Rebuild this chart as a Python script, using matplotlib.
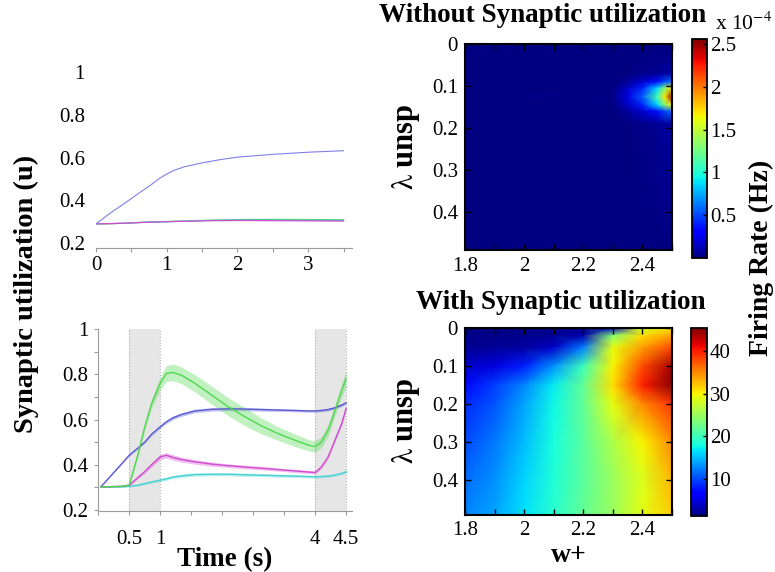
import numpy as np
import matplotlib
matplotlib.use('Agg')
import matplotlib.pyplot as plt

plt.rcParams['font.family'] = ['Liberation Serif', 'DejaVu Serif']
plt.rcParams['mathtext.fontset'] = 'stix'

# --- top left: u without stimulus ---
t_top = [0, 0.2, 0.4, 0.6, 0.8, 0.9, 1.0, 1.1, 1.25, 1.5, 1.75, 2.0, 2.5, 3.0, 3.5]
u_top_blue = [0.29, 0.34, 0.385, 0.432, 0.478, 0.503, 0.523, 0.54, 0.557, 0.575, 0.59,
              0.602, 0.615, 0.625, 0.632]
u_top_green = [0.29, 0.291, 0.293, 0.296, 0.299, 0.3, 0.301, 0.302, 0.303, 0.306, 0.308,
               0.31, 0.311, 0.31, 0.309]
u_top_magenta = [0.29, 0.291, 0.293, 0.296, 0.298, 0.299, 0.3, 0.301, 0.302, 0.304, 0.305,
                 0.306, 0.305, 0.304, 0.303]
u_top_cyan = [0.29, 0.291, 0.293, 0.296, 0.299, 0.3, 0.3, 0.301, 0.302, 0.305, 0.307,
              0.308, 0.308, 0.307, 0.306]

# --- bottom left: u with stimulus (mean, sd) ---
t_bot = [0.04, 0.38, 0.5, 0.645, 0.75, 0.86, 1.0, 1.1, 1.21, 1.34, 1.56, 1.83,
         2.1, 2.37, 2.63, 2.9, 3.17, 3.39, 3.5, 3.6, 3.71, 3.82, 3.93, 4.0]
u_green = [0.302, 0.305, 0.31, 0.45, 0.568, 0.67, 0.76, 0.804, 0.808, 0.796, 0.76, 0.708,
           0.656, 0.612, 0.572, 0.538, 0.509, 0.487, 0.48, 0.5, 0.553, 0.64, 0.73, 0.78]
sd_green = [0.003, 0.003, 0.005, 0.012, 0.015, 0.02, 0.03, 0.035, 0.037, 0.037, 0.038, 0.04,
            0.04, 0.04, 0.035, 0.03, 0.028, 0.025, 0.025, 0.025, 0.025, 0.025, 0.03, 0.035]
u_blue = [0.302, 0.405, 0.442, 0.475, 0.5, 0.535, 0.568, 0.59, 0.608, 0.622, 0.638, 0.645,
          0.647, 0.646, 0.644, 0.642, 0.64, 0.638, 0.638, 0.64, 0.644, 0.652, 0.664, 0.674]
sd_blue = [0.001, 0.002, 0.003, 0.004, 0.005, 0.006, 0.007, 0.008, 0.008, 0.008, 0.008, 0.008,
           0.008, 0.008, 0.007, 0.006, 0.006, 0.006, 0.006, 0.006, 0.006, 0.006, 0.006, 0.006]
u_magenta = [0.302, 0.305, 0.31, 0.345, 0.37, 0.4, 0.435, 0.442, 0.432, 0.423, 0.413, 0.403,
             0.396, 0.39, 0.385, 0.379, 0.373, 0.368, 0.366, 0.39, 0.435, 0.509, 0.583, 0.649]
sd_magenta = [0.002, 0.002, 0.003, 0.006, 0.008, 0.01, 0.012, 0.012, 0.012, 0.011, 0.01, 0.009,
              0.008, 0.008, 0.008, 0.007, 0.007, 0.007, 0.007, 0.007, 0.008, 0.008, 0.008, 0.008]
u_cyan = [0.302, 0.303, 0.305, 0.31, 0.317, 0.324, 0.332, 0.338, 0.346, 0.351, 0.357, 0.358,
          0.358, 0.356, 0.354, 0.352, 0.35, 0.348, 0.347, 0.348, 0.35, 0.355, 0.362, 0.369]
sd_cyan = [0.002, 0.002, 0.003, 0.004, 0.005, 0.006, 0.007, 0.007, 0.007, 0.007, 0.007, 0.007,
           0.007, 0.007, 0.007, 0.007, 0.006, 0.006, 0.006, 0.006, 0.006, 0.006, 0.006, 0.006]
stim_windows = [(0.5, 1.0), (3.5, 4.0)]
bot_tick_pos = [0.5, 1.0, 3.5, 4.0]
bot_tick_labels = ['0.5', '1', '4', '4.5']

# --- heatmap without synaptic utilization (x 1e-4 Hz) ---
w_top = [1.8, 2.3, 2.35, 2.4, 2.45, 2.475, 2.5]
lam_top = [0, 0.07, 0.09, 0.105, 0.125, 0.145, 0.16, 0.19, 0.49]
rate_top = [
    [0, 0, 0, 0, 0, 0, 0],
    [0, 0, 0, 0.02, 0.04, 0.06, 0.08],
    [0, 0, 0.05, 0.18, 0.35, 0.5, 0.6],
    [0, 0, 0.15, 0.4, 0.85, 1.3, 1.7],
    [0, 0.02, 0.22, 0.55, 1.1, 1.7, 2.5],
    [0, 0, 0.15, 0.4, 0.85, 1.3, 1.7],
    [0, 0, 0.06, 0.18, 0.35, 0.5, 0.6],
    [0, 0, 0, 0.02, 0.04, 0.06, 0.08],
    [0, 0, 0, 0, 0, 0, 0],
]

# --- heatmap with synaptic utilization (Hz) ---
w_bot = [1.8, 1.9, 2.0, 2.1, 2.2, 2.3, 2.4, 2.5]
lam_bot = [0, 0.02, 0.05, 0.1, 0.15, 0.2, 0.3, 0.4, 0.49]
rate_bot = [
    [1.5, 1.5, 1.5, 1.6, 1.8, 4, 28, 31],
    [1.6, 1.7, 1.8, 2.0, 3, 24, 31, 34],
    [2.0, 2.2, 2.5, 4, 12, 29, 34, 38],
    [4, 5, 8, 13, 20, 30, 38, 44],
    [7, 9.5, 12.5, 17, 22, 31, 40, 45],
    [8.5, 10.5, 14, 17.5, 22, 29, 35, 39],
    [10, 12, 15, 18, 21.5, 26, 30, 35],
    [11.5, 13, 16, 18.5, 21.5, 25, 28.5, 33],
    [12.5, 14, 16.5, 19, 22, 25, 29, 32],
]

c_blue = '#5a5ad2'
c_green = '#4fd84f'
c_magenta = '#d24ad2'
c_cyan = '#46d2d2'
grey = '#9a9a9a'

fig = plt.figure(figsize=(7.75, 5.72), dpi=100)

# top left
ax1 = fig.add_axes([0.1239, 0.5664, 0.3303, 0.3077])
ax1.plot(t_top, u_top_green, color=c_green, lw=0.9)
ax1.plot(t_top, u_top_cyan, color=c_cyan, lw=0.9)
ax1.plot(t_top, u_top_magenta, color=c_magenta, lw=0.9)
ax1.plot(t_top, u_top_blue, color='#8080e8', lw=0.8)
ax1.set_xlim(0, 3.62)
ax1.set_ylim(0.177, 1.0)
ax1.set_xticks(np.arange(0, 3.6, 0.5))
ax1.set_xticklabels(['0', '', '1', '', '2', '', '3', ''])
ax1.set_yticks([0.2, 0.4, 0.6, 0.8, 1.0])
ax1.set_yticklabels(['0.2', '0.4', '0.6', '0.8', '1'])
for s in ['top', 'right', 'left']:
    ax1.spines[s].set_visible(False)
ax1.spines['bottom'].set_color(grey)
ax1.tick_params(axis='x', colors=grey, length=3, width=0.8, labelsize=15,
                labelcolor='black', pad=3)
ax1.tick_params(axis='y', length=0, labelsize=15, pad=8)

# bottom left
ax2 = fig.add_axes([0.1268, 0.1075, 0.327, 0.3173])
for a, b in stim_windows:
    ax2.axvspan(a, b, color='#e6e6e6', lw=0, zorder=0)
    ax2.axvline(a, color='#b0b0b0', ls=':', lw=0.8, zorder=0.5)
    ax2.axvline(b, color='#b0b0b0', ls=':', lw=0.8, zorder=0.5)
series = [(u_blue, sd_blue, c_blue), (u_cyan, sd_cyan, c_cyan),
          (u_magenta, sd_magenta, c_magenta), (u_green, sd_green, c_green)]
for u, sd, c in series:
    u = np.array(u)
    sd = np.array(sd)
    ax2.fill_between(t_bot, u - sd, u + sd, color=c, alpha=0.35, lw=0)
    ax2.plot(t_bot, u, color=c, lw=1.0)
ax2.set_xlim(0, 4.09)
ax2.set_ylim(0.198, 1.0)
ax2.set_xticks(np.arange(0, 4.01, 0.5))
ax2.set_xticklabels([bot_tick_labels[bot_tick_pos.index(p)] if p in bot_tick_pos else ''
                     for p in np.arange(0, 4.01, 0.5)])
ax2.set_yticks([0.2, 0.4, 0.6, 0.8, 1.0])
ax2.set_yticklabels(['0.2', '0.4', '0.6', '0.8', '1'])
ax2.set_yticks(np.arange(0.3, 1.0, 0.2), minor=True)
for s in ['top', 'right']:
    ax2.spines[s].set_visible(False)
ax2.spines['bottom'].set_color(grey)
ax2.spines['left'].set_color(grey)
ax2.tick_params(axis='both', which='both', colors=grey, length=3, width=0.8,
                labelsize=15, labelcolor='black')
ax2.tick_params(axis='x', pad=11)
ax2.tick_params(axis='y', pad=4)
ax2.set_xlabel('Time (s)', fontsize=19.5, fontweight='bold', labelpad=-1)

fig.text(0.034, 0.486, 'Synaptic utilization (u)', rotation=90, fontsize=20.5,
         fontweight='bold', ha='center', va='center')


def style_heat(ax):
    ax.set_xlim(1.8, 2.5)
    ax.set_ylim(0.49, 0)
    ax.set_xticks(np.arange(1.8, 2.51, 0.1))
    ax.set_xticklabels(['1.8', '', '2', '', '2.2', '', '2.4', ''])
    ax.set_yticks([0, 0.1, 0.2, 0.3, 0.4])
    ax.set_yticklabels(['0', '0.1', '0.2', '0.3', '0.4'])
    ax.tick_params(direction='in', top=True, right=True, length=4, width=1,
                   labelsize=15, pad=5)
    for s in ax.spines.values():
        s.set_linewidth(1.5)
    ax.set_ylabel(r'$\mathrm{\lambda}$ unsp', fontsize=22, fontweight='bold')
    ax.yaxis.set_label_coords(-0.21, 0.5)


# top heatmap
ax3 = fig.add_axes([0.6, 0.5629, 0.2671, 0.3601])
W, L = np.meshgrid(w_top, lam_top)
m1 = ax3.pcolormesh(W, L, np.array(rate_top), cmap='jet', shading='gouraud',
                    vmin=0, vmax=2.56)
style_heat(ax3)
ax3.set_title('Without Synaptic utilization', fontsize=19.5, fontweight='bold',
              x=0.377, pad=16)

cax1 = fig.add_axes([0.8929, 0.549, 0.0194, 0.3829])
cb1 = fig.colorbar(m1, cax=cax1)
cb1.set_ticks([0.5, 1, 1.5, 2, 2.5])
cb1.set_ticklabels(['0.5', '1', '1.5', '2', '2.5'])
cb1.ax.tick_params(direction='in', length=3, width=1, labelsize=15, pad=2)
cb1.outline.set_linewidth(1.3)
fig.text(0.922, 0.958, r'x 10$^{-4}$', fontsize=15.5, ha='left', va='center')

# bottom heatmap
ax4 = fig.add_axes([0.6, 0.1005, 0.2671, 0.326])
W, L = np.meshgrid(w_bot, lam_bot)
m2 = ax4.pcolormesh(W, L, np.array(rate_bot), cmap='jet', shading='gouraud',
                    vmin=1.2, vmax=45.5)
style_heat(ax4)
ax4.set_title('With Synaptic utilization', fontsize=19.5, fontweight='bold',
              x=0.464, pad=14)
ax4.set_xlabel('w+', fontsize=20, fontweight='bold', labelpad=2)

cax2 = fig.add_axes([0.8916, 0.0979, 0.0206, 0.3287])
cb2 = fig.colorbar(m2, cax=cax2)
cb2.set_ticks([10, 20, 30, 40])
cb2.ax.tick_params(direction='in', length=3, width=1, labelsize=15, pad=2)
cb2.outline.set_linewidth(1.3)

fig.text(0.983, 0.549, 'Firing Rate (Hz)', rotation=90, fontsize=20,
         fontweight='bold', ha='center', va='center')

fig.savefig('out.png', dpi=100)
